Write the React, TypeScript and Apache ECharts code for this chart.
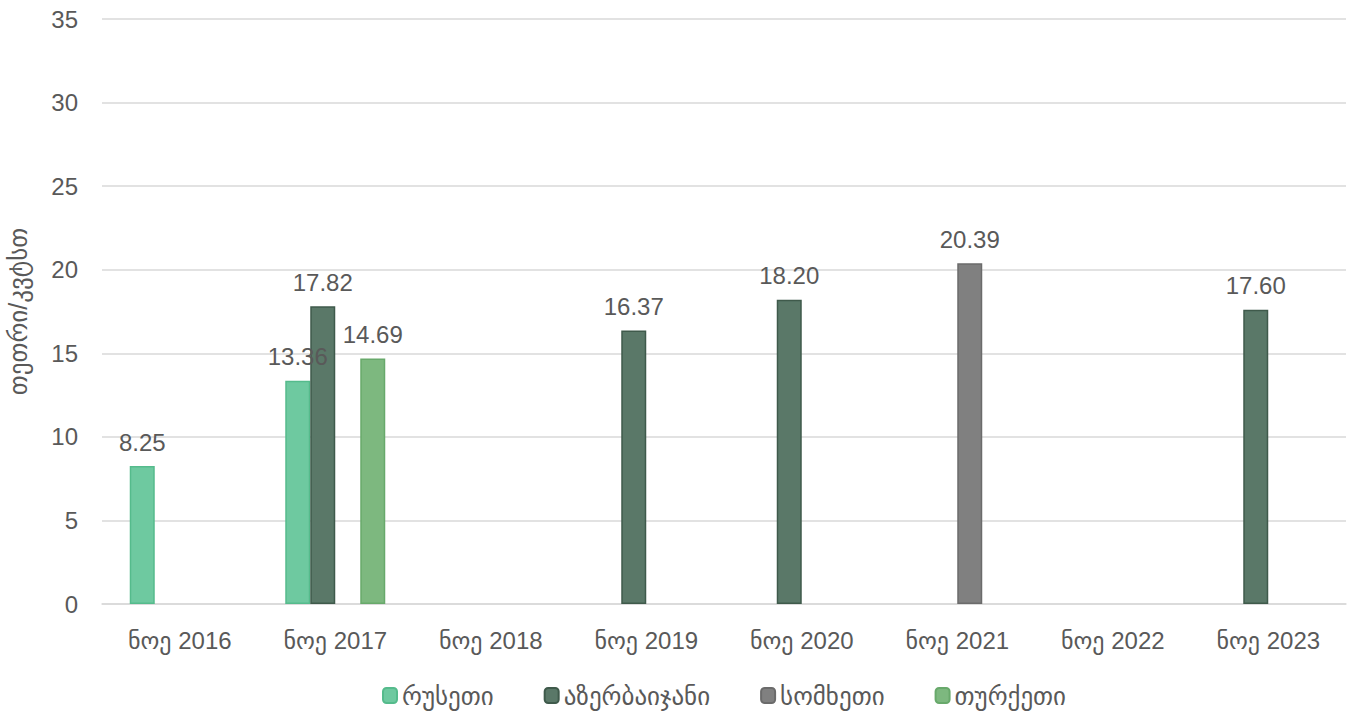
import React, { useEffect, useRef } from "react";
import * as echarts from "echarts";

const categories = ["ნოე 2016", "ნოე 2017", "ნოე 2018", "ნოე 2019", "ნოე 2020", "ნოე 2021", "ნოე 2022", "ნოე 2023"];
const russia = [8.25, 13.36, null, null, null, null, null, null];
const azerbaijan = [null, 17.82, null, 16.37, 18.2, null, null, 17.6];
const armenia = [null, null, null, null, null, 20.39, null, null];
const turkey = [null, 14.69, null, null, null, null, null, null];
const seriesNames = ["რუსეთი", "აზერბაიჯანი", "სომხეთი", "თურქეთი"];
const yAxisName = "თეთრი/კვტსთ";

const fills = ["#6ec9a0", "#5a7868", "#808080", "#7db87f"];
const borders = ["#55bb8c", "#3f5a4b", "#6b6b6b", "#68a96b"];

export default function App() {
  const ref = useRef<HTMLDivElement>(null);
  useEffect(() => {
    document.body.style.margin = "0";
    const chart = echarts.init(ref.current!, undefined, { renderer: "svg" });
    const data = [russia, azerbaijan, armenia, turkey];
    chart.setOption({
      animation: false,
      textStyle: { fontFamily: "Arial, 'Liberation Sans', 'DejaVu Sans', sans-serif" },
      grid: { left: 102, right: 8, top: 19, bottom: 113, containLabel: false, outerBoundsMode: "none" },
      legend: {
        bottom: 4,
        left: 377,
        itemWidth: 14,
        itemHeight: 15,
        itemGap: 50,
        textStyle: { fontSize: 25, color: "#595959" },
        data: seriesNames,
      },
      xAxis: {
        type: "category",
        data: categories,
        axisLine: { lineStyle: { color: "#d9d9d9", width: 1.5 } },
        axisTick: { show: false },
        axisLabel: { fontSize: 24, color: "#595959", margin: 24 },
      },
      yAxis: {
        type: "value",
        min: 0,
        max: 35,
        interval: 5,
        name: yAxisName,
        nameLocation: "middle",
        nameGap: 72,
        nameTextStyle: { fontSize: 25, color: "#595959" },
        axisLabel: { fontSize: 24, color: "#595959", margin: 24 },
        splitLine: { lineStyle: { color: "#d9d9d9", width: 1.5 } },
      },
      series: data.map((d, i) => ({
        name: seriesNames[i],
        type: "bar",
        data: d,
        barWidth: 25,
        barGap: "0%",
        itemStyle: { color: fills[i], borderColor: borders[i], borderWidth: 1.5 },
        label: {
          show: true,
          position: "top",
          distance: 12,
          fontSize: 24,
          color: "#595959",
          formatter: (p: any) => (p.value == null ? "" : Number(p.value).toFixed(2)),
        },
      })),
    });
    return () => chart.dispose();
  }, []);
  return <div ref={ref} style={{ width: 1354, height: 717 }} />;
}
